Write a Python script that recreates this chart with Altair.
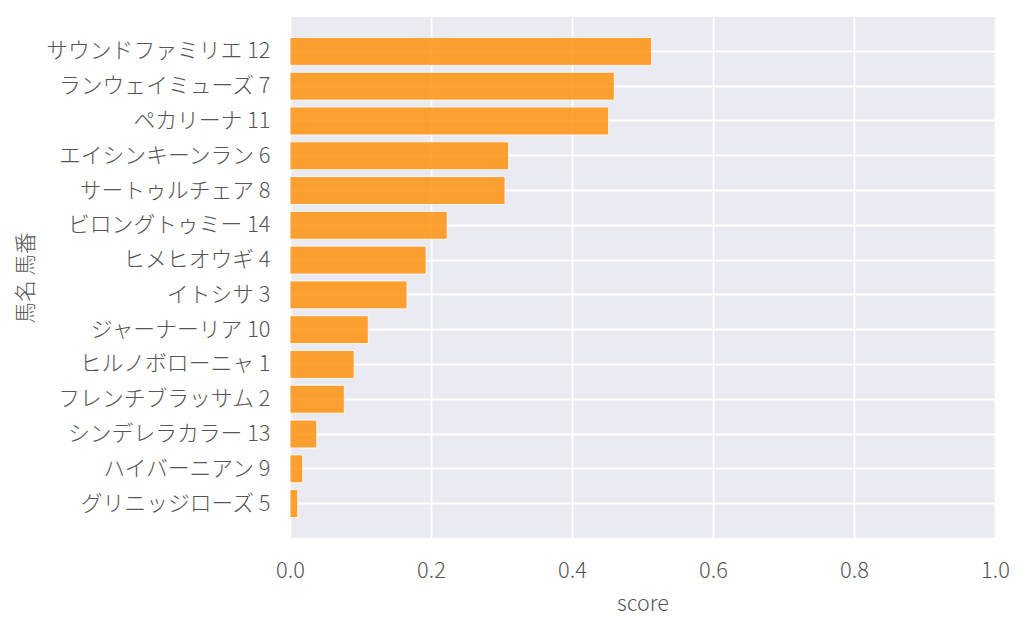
import altair as alt
import pandas as pd

names = ["サウンドファミリエ 12", "ランウェイミューズ 7", "ペカリーナ 11", "エイシンキーンラン 6",
         "サートゥルチェア 8", "ビロングトゥミー 14", "ヒメヒオウギ 4", "イトシサ 3",
         "ジャーナーリア 10", "ヒルノボローニャ 1", "フレンチブラッサム 2", "シンデレラカラー 13",
         "ハイバーニアン 9", "グリニッジローズ 5"]
scores = [0.513, 0.460, 0.452, 0.310, 0.305, 0.223, 0.193, 0.166,
          0.111, 0.091, 0.077, 0.038, 0.018, 0.011]
x_ticks = [0.0, 0.2, 0.4, 0.6, 0.8, 1.0]

df = pd.DataFrame({"name": names, "score": scores})

FONT = "Noto Sans CJK JP"
TXT = "#555555"

chart = alt.Chart(df).mark_bar(
    color="#ff8c00", fillOpacity=0.8, stroke="white", strokeWidth=1, strokeOpacity=0.8
).encode(
    x=alt.X("score:Q", title="score",
            scale=alt.Scale(domain=[0, 1], nice=False, zero=True),
            axis=alt.Axis(values=x_ticks, format=".1f", labelPadding=22, titlePadding=12,
                          labelFlush=False)),
    y=alt.Y("name:N", title="馬名 馬番", sort=None,
            scale=alt.Scale(paddingInner=0.2, paddingOuter=0.59),
            axis=alt.Axis(labelPadding=20, bandPosition=0.5, labelLimit=400,
                          titleX=-264, titleY=260.5, titleAngle=270,
                          titleAlign="center", titleBaseline="middle")),
).properties(
    width=705, height=521,
    autosize=alt.AutoSizeParams(type="none"),
    padding={"left": 282, "top": 9, "right": 21, "bottom": 85},
).configure_view(
    fill="#eaeaf2", stroke=None
).configure_axis(
    grid=True, gridColor="white", gridWidth=1.8, domain=False, ticks=False,
    labelFont=FONT, labelFontSize=21.8, labelColor=TXT, labelFontWeight=300,
    titleFont=FONT, titleFontSize=21.5, titleColor=TXT, titleFontWeight=300,
)

chart.save("out.html", embed_options={"renderer": "svg", "actions": False})
